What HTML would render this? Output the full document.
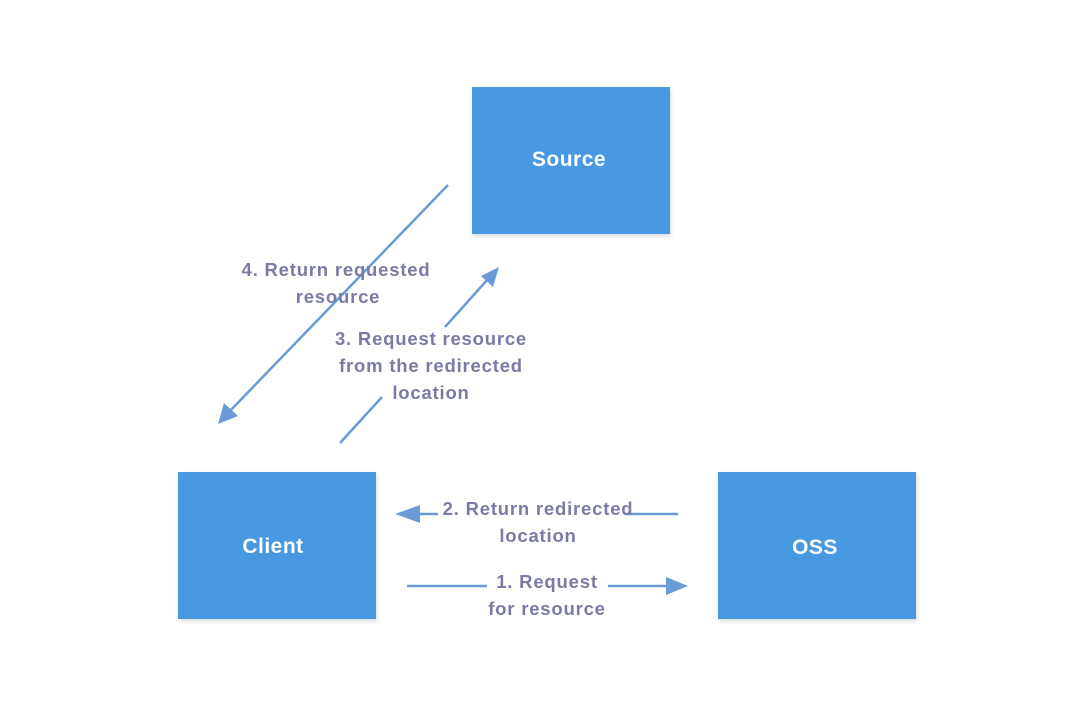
<!DOCTYPE html>
<html><head><style>
body{margin:0;background:#fff;}
svg{display:block;}
text{font-family:"Liberation Sans",sans-serif;font-weight:bold;}
</style></head><body>
<svg width="1070" height="712" viewBox="0 0 1070 712">
<defs>
<filter id="s" x="-10%" y="-10%" width="130%" height="130%"><feDropShadow dx="1" dy="2" stdDeviation="2" flood-color="#000" flood-opacity="0.15"/></filter>
</defs>
<rect x="472" y="87" width="198" height="147" fill="#4a98e2" filter="url(#s)"/>
<rect x="178" y="472" width="198" height="147" fill="#4a98e2" filter="url(#s)"/>
<rect x="718" y="472" width="198" height="147" fill="#4a98e2" filter="url(#s)"/>
<text x="569" y="166" fill="#fff" font-size="21" letter-spacing="0.5" text-anchor="middle">Source</text>
<text x="273" y="553" fill="#fff" font-size="21" letter-spacing="0.5" text-anchor="middle">Client</text>
<text x="815" y="554" fill="#fff" font-size="21" letter-spacing="0.5" text-anchor="middle">OSS</text>
<g stroke="#6a9bd6" stroke-width="2.5" fill="none">
<line x1="448" y1="185" x2="228" y2="413"/>
<line x1="340" y1="443" x2="382" y2="397"/>
<line x1="445" y1="327" x2="488" y2="279"/>
<line x1="678" y1="514" x2="625" y2="514"/>
<line x1="420" y1="514" x2="438" y2="514"/>
<line x1="407" y1="586" x2="487" y2="586"/>
<line x1="608" y1="586" x2="668" y2="586"/>
</g>
<g fill="#6a9bd6">
<polygon points="218,424 224,403 238,416"/>
<polygon points="499,267 481,276 493,287"/>
<polygon points="395,514 420,505 420,523"/>
<polygon points="688,586 666,577 666,595"/>
</g>
<g fill="#7b7aa6" font-size="18.5" letter-spacing="0.8" text-anchor="middle">
<text x="336" y="276">4. Return requested</text>
<text x="338" y="303">resource</text>
<text x="431" y="345">3. Request resource</text>
<text x="431" y="372">from the redirected</text>
<text x="431" y="399">location</text>
<text x="538" y="515">2. Return redirected</text>
<text x="538" y="542">location</text>
<text x="547" y="588">1. Request</text>
<text x="547" y="615">for resource</text>
</g>
</svg>
</body></html>
